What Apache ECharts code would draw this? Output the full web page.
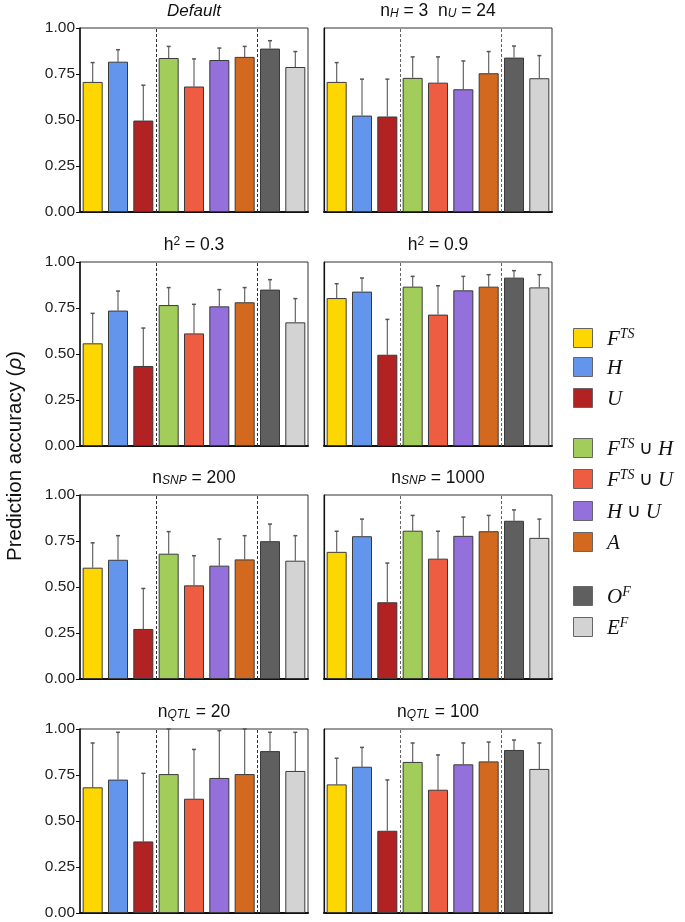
<!DOCTYPE html>
<html>
<head>
<meta charset="utf-8">
<script src="https://cdn.jsdelivr.net/npm/echarts@6/dist/echarts.min.js"></script>
<style>
html,body{margin:0;padding:0;background:#fff;}
#chart{width:685px;height:922px;}
</style>
</head>
<body>
<div id="chart"></div>
<script>
// ---- data ----
const categories = ['F^TS', 'H', 'U', 'F^TS ∪ H', 'F^TS ∪ U', 'H ∪ U', 'A', 'O^F', 'E^F'];
const barColors = ['#FFD700', '#6495ED', '#B22222', '#A2CD5A', '#EE5C42', '#9370DB', '#D2691E', '#5F5F5F', '#D3D3D3'];
const yTicks = [0, 0.25, 0.5, 0.75, 1];
const separatorsAfter = [2, 6];

const defaultMean  = [0.707, 0.817, 0.497, 0.837, 0.682, 0.826, 0.843, 0.888, 0.788];
const defaultUpper = [0.812, 0.882, 0.689, 0.900, 0.832, 0.891, 0.900, 0.931, 0.872];
const nHnUMean     = [0.707, 0.524, 0.519, 0.729, 0.703, 0.667, 0.754, 0.839, 0.727];
const nHnUUpper    = [0.812, 0.722, 0.722, 0.843, 0.843, 0.821, 0.872, 0.902, 0.850];
const h03Mean      = [0.558, 0.736, 0.435, 0.766, 0.612, 0.759, 0.781, 0.850, 0.672];
const h03Upper     = [0.721, 0.842, 0.641, 0.861, 0.770, 0.850, 0.861, 0.904, 0.801];
const h09Mean      = [0.804, 0.839, 0.496, 0.866, 0.714, 0.846, 0.866, 0.915, 0.862];
const h09Upper     = [0.882, 0.913, 0.688, 0.922, 0.871, 0.922, 0.931, 0.953, 0.931];
const snp200Mean   = [0.605, 0.648, 0.272, 0.681, 0.509, 0.616, 0.650, 0.749, 0.643];
const snp200Upper  = [0.740, 0.779, 0.492, 0.801, 0.670, 0.761, 0.779, 0.842, 0.779];
const snp1000Mean  = [0.691, 0.776, 0.417, 0.806, 0.654, 0.778, 0.803, 0.860, 0.767];
const snp1000Upper = [0.803, 0.869, 0.630, 0.889, 0.803, 0.880, 0.889, 0.919, 0.869];
const qtl20Mean    = [0.683, 0.725, 0.389, 0.755, 0.621, 0.734, 0.755, 0.880, 0.772];
const qtl20Upper   = [0.924, 0.982, 0.759, 1.000, 0.889, 0.991, 1.000, 0.982, 0.982];
const qtl100Mean   = [0.699, 0.795, 0.447, 0.821, 0.670, 0.808, 0.824, 0.886, 0.783];
const qtl100Upper  = [0.841, 0.900, 0.723, 0.924, 0.859, 0.924, 0.929, 0.940, 0.924];

const panelTitles = [
  '{it|Default}',
  '{n|n}{sb|H}{n| = 3  n}{sb|U}{n| = 24}',
  '{n|h}{sp|2}{n| = 0.3}',
  '{n|h}{sp|2}{n| = 0.9}',
  '{n|n}{sb|SNP}{n| = 200}',
  '{n|n}{sb|SNP}{n| = 1000}',
  '{n|n}{sb|QTL}{n| = 20}',
  '{n|n}{sb|QTL}{n| = 100}'
];
const panelMeans = [defaultMean, nHnUMean, h03Mean, h09Mean, snp200Mean, snp1000Mean, qtl20Mean, qtl100Mean];
const panelUppers = [defaultUpper, nHnUUpper, h03Upper, h09Upper, snp200Upper, snp1000Upper, qtl20Upper, qtl100Upper];

const legendLabels = [
  '{v|F}{sp|TS}', '{v|H}', '{v|U}',
  '{v|F}{sp|TS}{u| ∪ }{v|H}', '{v|F}{sp|TS}{u| ∪ }{v|U}', '{v|H}{u| ∪ }{v|U}', '{v|A}',
  '{v|O}{sp|F}', '{v|E}{sp|F}'
];

// ---- layout ----
const colLeft = [80, 324];
const rowTop = [28, 262, 495, 729];
const plotW = 228, plotH = 184;

const grids = [], xAxes = [], yAxes = [], series = [], graphics = [];
const sans = 'Liberation Sans, Arial, sans-serif';
const serif = 'Liberation Serif, Times New Roman, serif';

for (let p = 0; p < 8; p++) {
  const col = p % 2, row = Math.floor(p / 2);
  grids.push({
    left: colLeft[col], top: rowTop[row], width: plotW, height: plotH,
    show: true, borderColor: '#333', borderWidth: 1, backgroundColor: 'transparent'
  });
  xAxes.push({
    gridIndex: p, type: 'category', data: categories,
    axisLabel: { show: false }, axisTick: { show: false },
    axisLine: { show: true, onZero: false, lineStyle: { color: '#111', width: 2 } }
  });
  yAxes.push({
    gridIndex: p, type: 'value', min: yTicks[0], max: yTicks[yTicks.length - 1], interval: 0.25,
    splitLine: { show: false },
    axisLine: { show: true, lineStyle: { color: '#111', width: col === 0 ? 1.5 : 1.2 } },
    axisTick: { show: col === 0, length: 4, lineStyle: { color: '#111' } },
    axisLabel: {
      show: col === 0, margin: 5, fontSize: 15.5, color: '#222', fontFamily: sans,
      formatter: v => v.toFixed(2)
    }
  });
  series.push({
    type: 'bar', xAxisIndex: p, yAxisIndex: p, barWidth: '79%', z: 3,
    data: panelMeans[p].map((v, i) => ({ value: v, itemStyle: { color: barColors[i] } })),
    itemStyle: { borderColor: '#3a3a3a', borderWidth: 1 },
    emphasis: { disabled: true }, silent: true
  });
  series.push({
    type: 'custom', xAxisIndex: p, yAxisIndex: p, z: 2, silent: true,
    data: panelMeans[p].map((v, i) => [i, v, panelUppers[p][i]]),
    renderItem: (params, api) => {
      const i = api.value(0), v = api.value(1), e = api.value(2);
      const p0 = api.coord([i, v]), p1 = api.coord([i, e]);
      const cap = 2;
      return { type: 'group', children: [
        { type: 'line', shape: { x1: p0[0], y1: p0[1], x2: p1[0], y2: p1[1] }, style: { stroke: '#666', lineWidth: 1.2 } },
        { type: 'line', shape: { x1: p1[0] - cap, y1: p1[1], x2: p1[0] + cap, y2: p1[1] }, style: { stroke: '#555', lineWidth: 1.5 } }
      ]};
    }
  });
  series.push({
    type: 'custom', xAxisIndex: p, yAxisIndex: p, z: 4, silent: true,
    data: separatorsAfter.map(i => [i, 0]),
    renderItem: (params, api) => {
      const i = api.value(0);
      const b = api.coord([i, 0]), t = api.coord([i, 1]);
      const band = api.size([1, 0])[0];
      const x = Math.round(b[0] + band / 2) + 0.5;
      return { type: 'line', shape: { x1: x, y1: b[1], x2: x, y2: t[1] },
        style: { stroke: col === 0 ? '#333' : '#666', lineWidth: 1, lineDash: [3, 2] } };
    }
  });
  graphics.push({
    type: 'text', x: colLeft[col] + plotW / 2, y: rowTop[row] - 17,
    style: {
      text: panelTitles[p], align: 'center', verticalAlign: 'middle',
      rich: {
        it: { fontSize: 17, fontStyle: 'italic', fontFamily: sans, fill: '#111', lineHeight: 18 },
        n: { fontSize: 17.5, fontFamily: sans, fill: '#111', lineHeight: 18 },
        sb: { fontSize: 12, fontStyle: 'italic', fontFamily: sans, fill: '#111', lineHeight: 9, verticalAlign: 'bottom' },
        sp: { fontSize: 12, fontFamily: sans, fill: '#111', lineHeight: 10, verticalAlign: 'top' }
      }
    }
  });
}

// legend
const legendY = [338, 367, 398, 448, 479, 511, 542, 596, 627];
categories.forEach((c, i) => {
  graphics.push({
    type: 'rect', shape: { x: 573.5, y: legendY[i] - 9.5, width: 19, height: 19 },
    style: { fill: barColors[i], stroke: '#666', lineWidth: 1 }
  });
  graphics.push({
    type: 'text', x: 607, y: legendY[i] + 1,
    style: {
      text: legendLabels[i], align: 'left', verticalAlign: 'middle',
      rich: {
        v: { fontSize: 21, fontStyle: 'italic', fontFamily: serif, fill: '#111', lineHeight: 24 },
        u: { fontSize: 19, fontFamily: serif, fill: '#111', lineHeight: 24 },
        sp: { fontSize: 14, fontStyle: 'italic', fontFamily: serif, fill: '#111', lineHeight: 13, verticalAlign: 'top' }
      }
    }
  });
});

// y-axis name
graphics.push({
  type: 'text', x: 15, y: 456, rotation: Math.PI / 2,
  style: {
    text: '{a|Prediction accuracy (}{r|ρ}{a|)}', align: 'center', verticalAlign: 'middle',
    rich: {
      a: { fontSize: 20.5, fontFamily: sans, fill: '#111' },
      r: { fontSize: 20.5, fontFamily: sans, fontStyle: 'italic', fill: '#111' }
    }
  }
});

const chart = echarts.init(document.getElementById('chart'), null, { renderer: 'canvas' });
chart.setOption({
  animation: false,
  backgroundColor: '#fff',
  grid: grids, xAxis: xAxes, yAxis: yAxes, series: series,
  graphic: graphics
});
</script>
</body>
</html>
